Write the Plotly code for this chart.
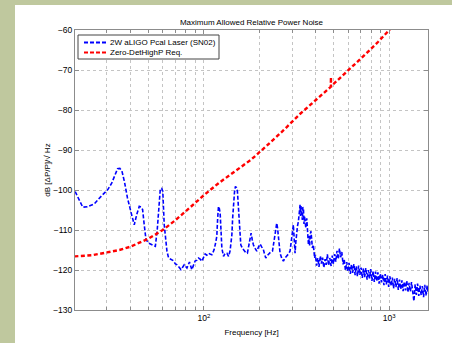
import plotly.graph_objects as go

# ---- data ----
blue_f = [20.2, 21.2, 22.2, 23.5, 25.6, 28.0, 30.3, 31.8, 33.0, 34.2, 35.2, 36.1, 37.3, 38.7, 40.4, 42.1,
          43.5, 44.8, 46.0, 46.7, 47.6, 48.7, 50.5, 52.5, 54.7, 56.0, 57.2, 58.2, 59.2, 60.0, 61.1, 62.2,
          63.2, 64.5, 66.5, 68.6, 70.0, 71.6, 73.5, 75.2, 76.8, 78.3, 81.0, 83.6, 86.1, 88.0, 89.8, 91.5,
          93.5, 95.5, 97.5, 99.5, 101.6, 103.7, 105.9, 108.0, 110.4, 112.0, 113.6, 115.5, 117.4, 118.7,
          119.9, 121.0, 122.4, 123.7, 125.0, 127.6, 130.0, 133.0, 135.9, 138.5, 141.6, 143.0, 144.5,
          146.3, 148.0, 149.8, 151.7, 153.3, 155.0, 156.6, 158.2, 161.5, 164.8, 168.0, 171.7, 173.9,
          176.5, 179.8, 182.5, 185.0, 189.0, 193.0, 197.0, 201.0, 205.0, 209.5, 212.5, 215.8, 220.0,
          224.8, 229.5, 234.5, 238.0, 242.3, 245.0, 247.3, 249.8, 252.4, 255.0, 257.8, 263.0, 268.6,
          274.0, 280.0, 286.0, 291.7, 298.0, 304.0, 307.0, 310.5, 313.5, 317.0, 320.0, 323.6, 327.0,
          330.5, 332.0, 334.0, 337.5, 340.0, 342.0, 344.6, 347.0, 349.0, 351.9, 355.0, 359.0, 362.0,
          364.0, 366.7, 369.0, 372.0, 375.0, 378.5, 382.0, 385.0, 389.8, 393.0, 396.0,
          400, 406, 412, 418, 425, 431, 437, 444, 451, 457,
          464, 471, 478, 486, 493, 500, 508, 515, 523, 531,
          539, 547, 555, 564, 572, 581, 590, 598, 607, 617,
          626, 635, 645, 655, 664, 674, 684, 695, 705, 716,
          726, 737, 748, 760, 771, 783, 795, 807, 819, 831,
          844, 856, 869, 882, 896, 909, 923, 937, 951, 965,
          980, 994, 1009, 1025, 1040, 1056, 1071, 1088, 1104, 1120,
          1137, 1154, 1172, 1189, 1207, 1225, 1244, 1262, 1281, 1301,
          1320, 1340, 1360, 1381, 1401, 1423, 1444, 1466, 1488, 1510,
          1533, 1556, 1579, 1603, 1627]
blue_db = [-100.4, -102.5, -104.3, -104.2, -103.5, -101.5, -99.9, -98.3, -96.5, -94.7, -94.6, -95.2, -98.0,
           -102.0, -105.5, -108.7, -106.0, -104.1, -104.3, -104.9, -108.5, -112.4, -113.3, -113.7, -114.1,
           -110.0, -103.0, -99.7, -99.6, -100.3, -108.7, -113.0, -115.3, -117.0, -117.3, -117.7, -118.4,
           -118.7, -119.3, -119.9, -119.3, -118.7, -119.5, -118.0, -119.9, -118.5, -117.7, -117.6, -117.0,
           -117.3, -117.8, -116.9, -116.0, -116.3, -115.8, -116.0, -116.2, -115.6, -114.9, -113.4, -111.6,
           -107.0, -104.1, -104.5, -105.8, -110.0, -114.5, -116.6, -115.9, -115.8, -116.6, -115.2, -111.2,
           -107.0, -103.7, -100.5, -99.1, -99.4, -100.3, -104.0, -107.9, -111.0, -113.7, -114.6, -115.3,
           -115.6, -115.8, -114.5, -112.5, -110.8, -112.5, -113.7, -114.6, -115.3, -114.3, -113.5, -114.2,
           -114.9, -116.0, -117.0, -116.4, -115.8, -115.5, -115.3, -113.5, -111.2, -109.5, -108.3, -109.5,
           -112.0, -114.0, -115.8, -117.0, -117.8, -117.0, -116.6, -116.0, -115.3, -112.0, -108.7, -112.0,
           -115.8, -113.0, -110.3, -109.0, -107.9, -105.5, -103.7, -106.5, -104.0, -105.8, -107.5, -104.3,
           -104.6, -108.5, -106.5, -107.9, -109.5, -107.1, -110.5, -112.5, -113.7, -111.5, -114.0, -111.0,
           -110.3, -112.5, -114.5, -113.7, -115.5, -117.0,
           -116.2, -118.9, -117.0, -119.2, -116.5, -118.4, -116.9, -119.4, -117.3, -118.7,
           -116.1, -118.9, -117.0, -119.0, -116.4, -118.5, -116.0, -117.9, -115.2, -117.3,
           -114.6, -116.8, -115.5, -118.6, -117.4, -120.1, -118.0, -120.4, -118.2, -121.0,
           -118.6, -120.7, -118.5, -121.3, -119.1, -121.6, -118.9, -121.2, -119.4, -122.0,
           -119.6, -121.8, -119.5, -122.4, -120.0, -122.1, -119.8, -122.7, -120.3, -123.0,
           -120.4, -122.8, -120.6, -123.4, -120.9, -123.1, -121.2, -123.8, -121.0, -123.6,
           -121.4, -124.2, -121.6, -124.0, -121.9, -124.6, -122.2, -124.3, -122.0, -125.0,
           -122.4, -124.8, -122.6, -125.3, -122.9, -125.1, -122.7, -125.6, -123.2, -125.4,
           -123.0, -126.0, -127.8, -123.6, -126.2, -123.4, -126.5, -123.9, -126.3, -124.0,
           -126.8, -123.7, -126.4, -123.9, -126.0]

red_f = [20, 25, 30, 35, 40, 45, 50, 60, 70, 85, 100, 120, 140, 160, 180, 220, 270, 330, 410, 470, 484,
         485, 485.5, 488, 520, 613, 755, 870, 985, 1100]
red_db = [-116.6, -116.3, -115.6, -115.0, -114.2, -113.2, -112.2, -110.0, -107.6, -104.2, -101.3, -98.3,
          -96.0, -94.0, -92.4, -88.8, -85.0, -81.0, -77.1, -74.6, -74.2, -71.8, -74.3, -74.0, -72.8,
          -69.8, -65.8, -63.0, -60.2, -58.0]

names = ["2W aLIGO Pcal Laser (SN02)", "Zero-DetHighP Req."]
colors = ["#0000ff", "#ff0000"]
title = "Maximum Allowed Relative Power Noise"
x_label = "Frequency [Hz]"
y_label = "dB [\u0394P/P]/\u221a Hz"
x_major = [100, 1000]
x_major_text = ["10<sup>2</sup>", "10<sup>3</sup>"]
x_minor = [20, 30, 40, 50, 60, 70, 80, 90, 200, 300, 400, 500, 600, 700, 800, 900]
y_tickvals = [-130, -120, -110, -100, -90, -80, -70, -60]

FONT = "Liberation Sans, Arial, Helvetica, sans-serif"
W, H = 452, 343
ML, MR, MT, MB = 75, 24, 30, 33
pw, ph = W - ML - MR, H - MT - MB


def px_x(p):
    return (p - ML) / pw


def px_y(p):
    return (H - MB - p) / ph


fig = go.Figure()
fig.add_trace(go.Scatter(x=blue_f, y=blue_db, mode="lines", name=names[0], showlegend=False,
                         line=dict(color=colors[0], width=1.6, dash="4px,2px")))
fig.add_trace(go.Scatter(x=red_f, y=red_db, mode="lines", name=names[1], showlegend=False,
                         line=dict(color=colors[1], width=2.4, dash="4px,2.5px")))

# white panel over the green page background
fig.add_shape(type="rect", xref="paper", yref="paper", layer="below",
              x0=px_x(15), x1=px_x(W + 2), y0=px_y(H + 2), y1=px_y(5),
              fillcolor="white", line=dict(width=0))

# compact legend box (MATLAB style)
fig.add_shape(type="rect", xref="paper", yref="paper", layer="above",
              x0=px_x(78), x1=px_x(219), y0=px_y(59), y1=px_y(35),
              fillcolor="white", line=dict(color="#444444", width=1))
for i, (nm, col) in enumerate(zip(names, colors)):
    yy = 42.5 + 10 * i
    fig.add_shape(type="line", xref="paper", yref="paper", layer="above",
                  x0=px_x(84), x1=px_x(107), y0=px_y(yy), y1=px_y(yy),
                  line=dict(color=col, width=1.8 if i == 0 else 2.2, dash="4px,2px"))
    fig.add_annotation(text=nm, xref="paper", yref="paper", x=px_x(108), y=px_y(yy),
                       xanchor="left", yanchor="middle", showarrow=False,
                       font=dict(family=FONT, size=8, color="black"))

axis_common = dict(showline=True, linecolor="#8c8c8c", linewidth=1, mirror="ticks",
                   ticks="inside", ticklen=4, tickcolor="#8c8c8c", automargin=False,
                   showgrid=True, gridcolor="#c4c4c4", griddash="dot", gridwidth=1,
                   zeroline=False, tickfont=dict(family=FONT, size=8.5, color="black"))

fig.update_xaxes(type="log", range=[1.3045, 3.2095], tickmode="array",
                 tickvals=x_major, ticktext=x_major_text,
                 minor=dict(tickmode="array", tickvals=x_minor, ticks="inside", ticklen=3,
                            tickcolor="#8c8c8c", showgrid=True, gridcolor="#c4c4c4",
                            griddash="dot", gridwidth=1),
                 title=dict(text=x_label, font=dict(family=FONT, size=8, color="black"), standoff=7),
                 **axis_common)
fig.update_yaxes(range=[-130, -60], tickmode="array", tickvals=y_tickvals,
                 title=dict(text=y_label, font=dict(family=FONT, size=8, color="black"), standoff=1),
                 **axis_common)

fig.update_layout(
    width=W, height=H,
    margin=dict(l=ML, r=MR, t=MT, b=MB, autoexpand=False),
    paper_bgcolor="#bfc89e", plot_bgcolor="white",
    title=dict(text=title, x=0.5, xref="paper", xanchor="center",
               y=1 - 22 / H, yref="container", yanchor="middle",
               font=dict(family=FONT, size=8, color="black")),
    showlegend=False,
    font=dict(family=FONT, size=8, color="black"),
)

fig.write_html("out.html")
